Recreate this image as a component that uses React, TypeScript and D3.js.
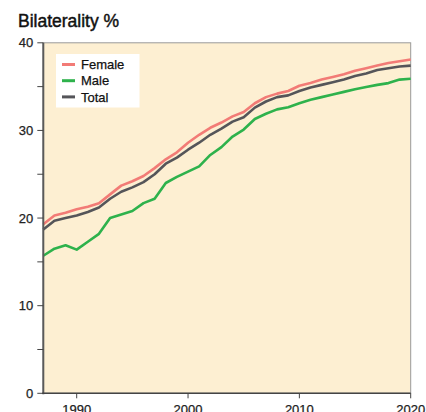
import React from "react";
import * as d3 from "d3";

const years = d3.range(1987, 2021);
const female = [19.3, 20.3, 20.6, 21.0, 21.3, 21.7, 22.7, 23.7, 24.2, 24.8, 25.7, 26.7, 27.5, 28.6, 29.5, 30.3, 30.9, 31.6, 32.1, 33.1, 33.8, 34.2, 34.5, 35.1, 35.4, 35.8, 36.1, 36.4, 36.8, 37.1, 37.4, 37.7, 37.9, 38.1];
const male = [15.7, 16.5, 16.9, 16.4, 17.3, 18.2, 20.0, 20.4, 20.8, 21.7, 22.2, 24.0, 24.7, 25.3, 25.9, 27.2, 28.1, 29.3, 30.1, 31.3, 31.9, 32.4, 32.65, 33.1, 33.5, 33.8, 34.1, 34.4, 34.7, 34.95, 35.2, 35.4, 35.8, 35.9];
const total = [18.7, 19.7, 20.0, 20.3, 20.7, 21.2, 22.2, 23.0, 23.5, 24.1, 25.0, 26.2, 26.9, 27.8, 28.6, 29.5, 30.2, 31.0, 31.5, 32.6, 33.3, 33.8, 34.0, 34.5, 34.9, 35.2, 35.5, 35.8, 36.2, 36.5, 36.9, 37.1, 37.3, 37.4];
const yMajor = [0, 10, 20, 30, 40];
const yMinor = [5, 15, 25, 35];
const xTicks = [1990, 2000, 2010, 2020];
const seriesNames = ["Female", "Male", "Total"];
const seriesColors = ["#f27b76", "#2eb24c", "#555559"];

const W = 426, H = 412;
const L = 43.3, R = 410.7, T = 42.8, B = 393.3;
const font = "'Liberation Sans', Arial, Helvetica, sans-serif";

export default function App() {
  const x = d3.scaleLinear().domain([1987, 2020]).range([L, R]);
  const y = d3.scaleLinear().domain([0, 40]).range([B, T]);
  const line = d3.line<number>().x((_, i) => x(years[i])).y((v) => y(v));
  const data = [female, male, total];
  return (
    <svg width={W} height={H} style={{ position: "absolute", left: 0, top: 0, display: "block" }}>
      <rect x={0} y={0} width={W} height={H} fill="#fff" />
      <text x={18} y={27} fontFamily={font} fontSize={17.5} fill="#111" stroke="#111" strokeWidth={0.45}>Bilaterality %</text>
      <rect x={L} y={T} width={R - L} height={B - T} fill="#fdefd2" stroke="#999" strokeWidth={1} />
      {data.map((d, i) => (
        <path key={i} d={line(d) || ""} fill="none" stroke={seriesColors[i]} strokeWidth={2.6} strokeLinejoin="round" />
      ))}
      <line x1={L} x2={L} y1={T} y2={B + 1} stroke="#5a5a5a" strokeWidth={2} />
      <line x1={L - 1} x2={R} y1={B} y2={B} stroke="#444" strokeWidth={1.5} />
      {yMajor.map((v) => (
        <g key={v}>
          <line x1={L - 6} x2={L} y1={y(v)} y2={y(v)} stroke="#444" strokeWidth={1} />
          <text x={L - 10} y={y(v)} dy="0.36em" textAnchor="end" fontFamily={font} fontSize={13} fill="#222" stroke="#222" strokeWidth={0.25}>{v}</text>
        </g>
      ))}
      {yMinor.map((v) => (
        <line key={v} x1={L - 6} x2={L} y1={y(v)} y2={y(v)} stroke="#444" strokeWidth={1} />
      ))}
      {xTicks.map((t) => (
        <g key={t}>
          <line x1={x(t)} x2={x(t)} y1={B} y2={B + 5} stroke="#444" strokeWidth={1} />
          <text x={x(t)} y={B + 20.5} textAnchor="middle" fontFamily={font} fontSize={13} fill="#222" stroke="#222" strokeWidth={0.25}>{t}</text>
        </g>
      ))}
      <rect x={56} y={54} width={83.5} height={53.5} fill="#fff" />
      {seriesNames.map((n, i) => (
        <g key={n}>
          <line x1={62} x2={75} y1={64.5 + i * 16.2} y2={64.5 + i * 16.2} stroke={seriesColors[i]} strokeWidth={3} />
          <text x={81} y={64.5 + i * 16.2} dy="0.36em" fontFamily={font} fontSize={13} fill="#111" stroke="#111" strokeWidth={0.25}>{n}</text>
        </g>
      ))}
    </svg>
  );
}
